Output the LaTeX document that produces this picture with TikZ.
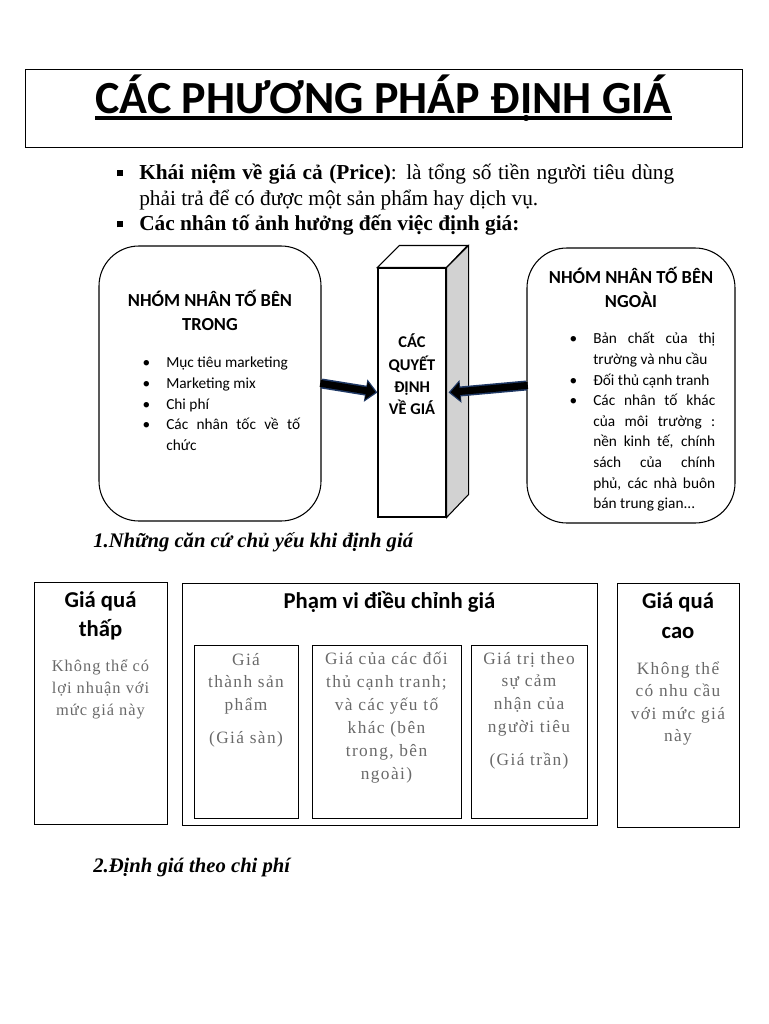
\documentclass[tikz,border=0pt]{standalone}
\usepackage{fontspec}
\setmainfont{Liberation Serif}
\newfontfamily\calibri{Carlito}
\newfontfamily\spacedserif[LetterSpace=8]{Liberation Serif}
\newfontfamily\narrowserif[LetterSpace=6]{Liberation Serif}
\usetikzlibrary{arrows.meta}
\definecolor{ArrowBlue}{RGB}{31, 56, 100}
\definecolor{SideGray}{RGB}{210, 210, 210}
\definecolor{NoteGray}{RGB}{105, 105, 105}
\newenvironment{dotlist}[2]{\list{#1}{\leftmargin=#2\labelwidth=8pt\labelsep=12pt\itemsep=0pt\parsep=0pt\topsep=0pt\partopsep=0pt}}{\endlist}
\newcommand{\sqbullet}{\raisebox{2.5pt}{\rule{5pt}{5pt}}}
\newsavebox{\titlebox}
\newcommand{\titleline}[1]{\sbox{\titlebox}{#1}\rlap{\usebox{\titlebox}}\rule[-4.5pt]{\wd\titlebox}{2.6pt}}

\begin{document}
\begin{tikzpicture}[x=0.75pt, y=-0.75pt,
    groupbox/.style={draw, thick, rounded corners=30pt, inner sep=0pt},
    plainbox/.style={draw, inner sep=0pt},
    headtext/.style={font=\calibri\bfseries, align=center, inner sep=0pt},
    listtext/.style={font=\calibri\fontsize{11.5}{15.45}\selectfont, align=justify, inner sep=0pt, anchor=north west},
    notetext/.style={font=\spacedserif\fontsize{13}{16.75}\selectfont, text=NoteGray, align=center, inner sep=0pt, anchor=north},
    pushline/.style={ArrowBlue, line width=7.5pt, -{Triangle[width=16.5pt, length=9pt]}},
    pushfill/.style={black, line width=5.2pt, -{Triangle[width=13.2pt, length=7pt]}, shorten >=1.5pt, shorten <=-1pt}]
    \useasboundingbox (0,0) rectangle (768,1024);
    \node[plainbox, minimum width=537.75pt, minimum height=58.5pt] (Title) at (383.5,108) {};
    \node[headtext, font=\calibri\bfseries\fontsize{34.5}{40}\selectfont, anchor=base] (TitleText) at (383.5,113.5) {\titleline{CÁC PHƯƠNG PHÁP ĐỊNH GIÁ}};
    \node[inner sep=0pt, anchor=north west, text width=423pt, align=justify, font=\fontsize{16}{19.2}\selectfont] (Intro) at (110,153.7) {%
        \begin{dotlist}{\sqbullet}{21.75pt}
        \item \rule{0pt}{16pt}\textbf{Khái niệm về giá cả (Price)}: là tổng số tiền người tiêu dùng\linebreak phải trả để có được một sản phẩm hay dịch vụ.
        \item \textbf{Các nhân tố ảnh hưởng đến việc định giá:}
        \end{dotlist}};
    \node[groupbox, minimum width=166.5pt, minimum height=206.25pt] (InnerGroup) at (210,383.5) {};
    \node[headtext, font=\calibri\bfseries\fontsize{13.8}{18}\selectfont, anchor=north] (InnerTitle) at (210,289) {\strut NHÓM NHÂN TỐ BÊN\\TRONG};
    \node[listtext, text width=127.5pt] (InnerList) at (130,347) {%
        \begin{dotlist}{\textbullet}{27pt}
        \item Mục tiêu marketing
        \item Marketing mix
        \item Chi phí
        \item Các nhân tốc về tố\linebreak chức
        \end{dotlist}};
    \node[plainbox, thick, minimum width=51pt, minimum height=186.75pt] (Decision) at (412,392.5) {};
    \draw[thick, fill=white] (Decision.north west) -- ++(22,-22) -- ++(68,0) -- (Decision.north east) -- cycle;
    \draw[thick, fill=SideGray] (Decision.north east) -- ++(22,-22) -- ++(0,249) -- (Decision.south east) -- cycle;
    \node[headtext, font=\calibri\bfseries\fontsize{12.3}{16.75}\selectfont, anchor=north] (DecisionText) at (412,332) {\strut CÁC\\QUYẾT\\ĐỊNH\\VỀ GIÁ};
    \node[groupbox, minimum width=156pt, minimum height=206.25pt] (OuterGroup) at (631,385.5) {};
    \node[headtext, font=\calibri\bfseries\fontsize{13.8}{18}\selectfont, anchor=north] (OuterTitle) at (631,266) {\strut NHÓM NHÂN TỐ BÊN\\NGOÀI};
    \node[listtext, text width=114pt] (OuterList) at (563,323) {%
        \begin{dotlist}{\textbullet}{22.5pt}
        \item Bản chất của thị\linebreak trường và nhu cầu
        \item Đối thủ cạnh tranh
        \item Các nhân tố khác\linebreak của môi trường :\linebreak nền kinh tế, chính\linebreak sách của chính\linebreak phủ, các nhà buôn\linebreak bán trung gian...
        \end{dotlist}};
    \draw[pushline] (InnerGroup.east) -- (Decision.west);
    \draw[pushfill] (InnerGroup.east) -- (Decision.west);
    \draw[pushline] (OuterGroup.west) -- ([xshift=1.5pt]Decision.east);
    \draw[pushfill] (OuterGroup.west) -- ([xshift=1.5pt]Decision.east);
    \node[anchor=base west, inner sep=0pt, font=\bfseries\itshape\fontsize{15.5}{18}\selectfont] (BasisHead) at (93,547) {1.Những căn cứ chủ yếu khi định giá};
    \node[plainbox, minimum width=99.75pt, minimum height=181.5pt] (LowPrice) at (100.5,703) {};
    \node[headtext, font=\calibri\bfseries\fontsize{17}{21.75}\selectfont, anchor=north] (LowTitle) at (100.5,586.7) {\strut Giá quá\\thấp};
    \node[notetext, font=\narrowserif\fontsize{12.3}{16.5}\selectfont] (LowNote) at (100.5,655.6) {\strut Không thể có\\lợi nhuận với\\mức giá này};
    \node[plainbox, minimum width=311.25pt, minimum height=181.5pt] (Range) at (389.5,704) {};
    \node[headtext, font=\calibri\bfseries\fontsize{17}{20}\selectfont, anchor=base] (RangeTitle) at (389.5,608) {Phạm vi điều chỉnh giá};
    \node[plainbox, minimum width=78pt, minimum height=129.75pt] (CostBox) at (246,731.5) {};
    \node[notetext, font=\spacedserif\fontsize{13}{17}\selectfont] (CostText) at (246,649) {\strut Giá\\thành sản\\phẩm\\[8pt](Giá sàn)};
    \node[plainbox, minimum width=111.75pt, minimum height=129.75pt] (RivalBox) at (386.5,731.5) {};
    \node[notetext, font=\spacedserif\fontsize{13}{17.25}\selectfont] (RivalText) at (386.5,648) {\strut Giá của các đối\\thủ cạnh tranh;\\và các yếu tố\\khác (bên\\trong, bên\\ngoài)};
    \node[plainbox, minimum width=87pt, minimum height=129.75pt] (ValueBox) at (529,731.5) {};
    \node[notetext, font=\spacedserif\fontsize{13}{17}\selectfont] (ValueText) at (529,648) {\strut Giá trị theo\\sự cảm\\nhận của\\người tiêu\\[8pt](Giá trần)};
    \node[plainbox, minimum width=91.5pt, minimum height=183pt] (HighPrice) at (678,705) {};
    \node[headtext, font=\calibri\bfseries\fontsize{17}{22.5}\selectfont, anchor=north] (HighTitle) at (678,587.5) {\strut Giá quá\\cao};
    \node[notetext] (HighNote) at (678,658.5) {\strut Không thể\\có nhu cầu\\với mức giá\\này};
    \node[anchor=base west, inner sep=0pt, font=\bfseries\itshape\fontsize{15.5}{18}\selectfont] (CostHead) at (93,872) {2.Định giá theo chi phí};
\end{tikzpicture}
\end{document}
